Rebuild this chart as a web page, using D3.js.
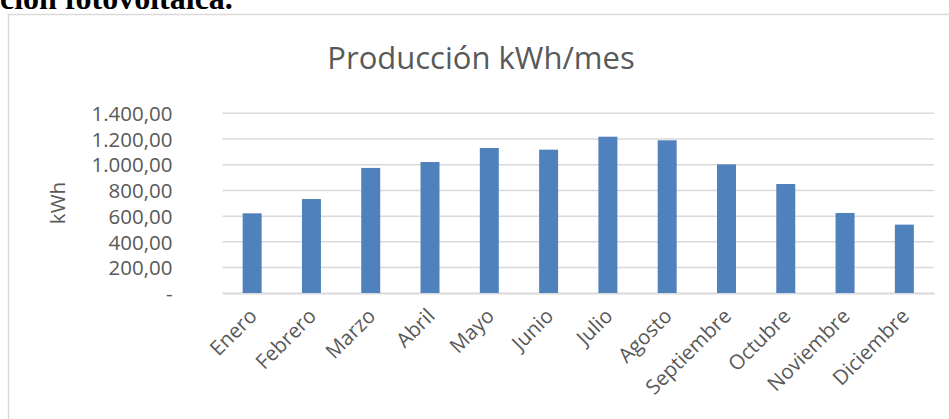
<!DOCTYPE html>
<html>
<head>
<meta charset="utf-8">
<script src="https://cdn.jsdelivr.net/npm/d3@7"></script>
<style>
  html, body { margin: 0; padding: 0; background: #fff; }
  svg { display: block; }
</style>
</head>
<body>
<svg id="chart" width="949" height="419"></svg>
<script>
// Monthly photovoltaic production (kWh)
const months = ["Enero", "Febrero", "Marzo", "Abril", "Mayo", "Junio",
                "Julio", "Agosto", "Septiembre", "Octubre", "Noviembre", "Diciembre"];
const production = [622, 733, 975, 1021, 1130, 1117, 1218, 1190, 1003, 850, 625, 534];
const yTicks = [0, 200, 400, 600, 800, 1000, 1200, 1400];
const chartTitle = "Producción kWh/mes";
const yAxisTitle = "kWh";
const headingText = "ción fotovoltaica.";

const svg = d3.select("#chart");

const plot = { left: 222.5, right: 934, top: 113.3, bottom: 293.3 };

// Section heading above the chart frame (continues from the previous page area)
svg.append("text")
  .attr("x", 0).attr("y", 9)
  .attr("font-family", "Liberation Serif, Times New Roman, serif")
  .attr("font-weight", "bold")
  .attr("font-size", 32)
  .attr("fill", "#000")
  .text(headingText);

// Chart frame
svg.append("rect")
  .attr("x", 8.5).attr("y", 14.5)
  .attr("width", 960).attr("height", 420)
  .attr("fill", "#fff")
  .attr("stroke", "#d9d9d9")
  .attr("stroke-width", 1.5);

const x = d3.scaleBand()
  .domain(months)
  .range([plot.left, plot.right])
  .paddingInner(0.68)
  .paddingOuter(0.34);

const y = d3.scaleLinear()
  .domain([0, 1400])
  .range([plot.bottom, plot.top]);

const numFmt = d3.formatLocale({
  decimal: ",", thousands: ".", grouping: [3], currency: ["", "€"]
}).format(",.2f");
const fmt = v => v === 0 ? "-" : numFmt(v);

// Horizontal gridlines
svg.append("g")
  .selectAll("line")
  .data(yTicks)
  .join("line")
  .attr("x1", plot.left).attr("x2", plot.right)
  .attr("y1", d => y(d)).attr("y2", d => y(d))
  .attr("stroke", "#d9d9d9")
  .attr("stroke-width", 1.5);

// Y axis labels
const yAxis = d3.axisLeft(y).tickValues(yTicks).tickFormat(fmt).tickSize(0).tickPadding(0);
const gy = svg.append("g")
  .attr("transform", `translate(${plot.left - 50},0)`)
  .call(yAxis);
gy.select(".domain").remove();
gy.selectAll("text")
  .attr("font-family", "Open Sans, sans-serif")
  .attr("font-size", 20.5)
  .attr("fill", "#595959")
  .attr("dy", "0.35em");

// Bars
svg.append("g")
  .selectAll("rect")
  .data(production)
  .join("rect")
  .attr("x", (d, i) => x(months[i]))
  .attr("width", x.bandwidth())
  .attr("y", d => y(d))
  .attr("height", d => y(0) - y(d))
  .attr("fill", "#4f81bd");

// X axis baseline and rotated labels
const xAxis = d3.axisBottom(x).tickSize(0).tickPadding(0);
const gx = svg.append("g")
  .attr("transform", `translate(0,${plot.bottom})`)
  .call(xAxis);
gx.select(".domain")
  .attr("stroke", "#d9d9d9")
  .attr("stroke-width", 1.5);
gx.selectAll(".tick text")
  .attr("font-family", "Open Sans, sans-serif")
  .attr("font-size", 20.5)
  .attr("fill", "#595959")
  .attr("text-anchor", "end")
  .attr("dy", "0.35em")
  .attr("transform", "translate(1,19) rotate(-45)");

// Axis title
svg.append("text")
  .attr("transform", `translate(58,203) rotate(-90)`)
  .attr("text-anchor", "middle")
  .attr("dy", "0.35em")
  .attr("font-family", "Open Sans, sans-serif")
  .attr("font-size", 20.5)
  .attr("fill", "#595959")
  .text(yAxisTitle);

// Chart title
svg.append("text")
  .attr("x", 481).attr("y", 69)
  .attr("text-anchor", "middle")
  .attr("font-family", "Open Sans, sans-serif")
  .attr("font-size", 31)
  .attr("fill", "#595959")
  .text(chartTitle);
</script>
</body>
</html>
